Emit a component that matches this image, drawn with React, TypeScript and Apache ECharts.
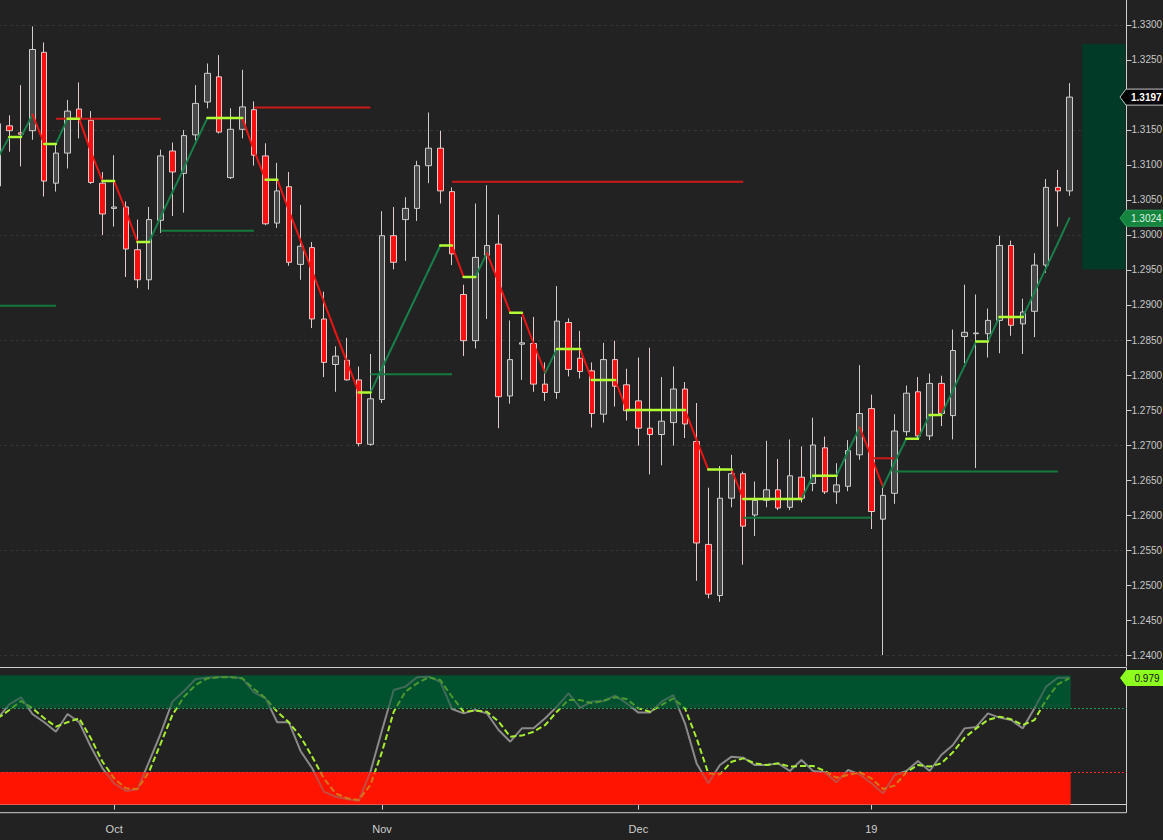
import React, { useEffect, useRef } from "react";
import * as echarts from "echarts";

// ---- Candles (daily GBP/USD, index 0 .. 92) ----
const opens = [
  1.3070, 1.3156, 1.3146, 1.3149, 1.3261, 1.3074, 1.3117, 1.3180, 1.3164, 1.3074,
  1.3038, 1.3040, 1.2979, 1.2936, 1.3021, 1.3120, 1.3088, 1.3143, 1.3190, 1.3226,
  1.3082, 1.3151, 1.3179, 1.3113, 1.3017, 1.3069, 1.2958, 1.2982, 1.2880, 1.2815,
  1.2821, 1.2793, 1.2701, 1.2765, 1.2999, 1.3022, 1.3038, 1.3099, 1.3124, 1.3062,
  1.2915, 1.2849, 1.2971, 1.2987, 1.2770, 1.2844, 1.2845, 1.2787, 1.2775, 1.2875,
  1.2824, 1.2806, 1.2744, 1.2822, 1.2786, 1.2763, 1.2724, 1.2715, 1.2732, 1.2780,
  1.2705, 1.2558, 1.2485, 1.2624, 1.2659, 1.2600, 1.2621, 1.2636, 1.2611, 1.2654,
  1.2645, 1.2696, 1.2633, 1.2641, 1.2686, 1.2752, 1.2594, 1.2631, 1.2719, 1.2776,
  1.2713, 1.2788, 1.2742, 1.2855, 1.2859, 1.2859, 1.2878, 1.2985, 1.2873, 1.2891,
  1.2957, 1.3068, 1.3063,
];
const closes = [
  1.3159, 1.3149, 1.3144, 1.3265, 1.3077, 1.3117, 1.3177, 1.3166, 1.3075, 1.3030,
  1.3040, 1.2980, 1.2936, 1.3022, 1.3113, 1.3090, 1.3142, 1.3188, 1.3231, 1.3147,
  1.3151, 1.3183, 1.3114, 1.3016, 1.3063, 1.2961, 1.2984, 1.2880, 1.2818, 1.2827,
  1.2793, 1.2702, 1.2766, 1.2999, 1.2961, 1.3038, 1.3099, 1.3124, 1.3063, 1.2973,
  1.2849, 1.2968, 1.2985, 1.2769, 1.2822, 1.2846, 1.2787, 1.2775, 1.2877, 1.2808,
  1.2805, 1.2745, 1.2822, 1.2784, 1.2749, 1.2724, 1.2715, 1.2734, 1.2780, 1.2730,
  1.2560, 1.2487, 1.2624, 1.2659, 1.2584, 1.2621, 1.2636, 1.2610, 1.2656, 1.2624,
  1.2700, 1.2633, 1.2643, 1.2692, 1.2745, 1.2605, 1.2628, 1.2720, 1.2774, 1.2713,
  1.2788, 1.2745, 1.2835, 1.2861, 1.2860, 1.2878, 1.2985, 1.2871, 1.2890, 1.2957,
  1.3068, 1.3063, 1.3197,
];
const lows = [
  1.3065, 1.3119, 1.3098, 1.3136, 1.3055, 1.3062, 1.3095, 1.3138, 1.3073, 1.3000,
  1.3012, 1.2940, 1.2924, 1.2922, 1.3003, 1.3027, 1.3032, 1.3135, 1.3181, 1.3145,
  1.3080, 1.3138, 1.3099, 1.3014, 1.3010, 1.2956, 1.2936, 1.2867, 1.2797, 1.2776,
  1.2792, 1.2698, 1.2699, 1.2760, 1.2951, 1.2963, 1.3020, 1.3074, 1.3045, 1.2957,
  1.2827, 1.2838, 1.2880, 1.2724, 1.2759, 1.2793, 1.2776, 1.2763, 1.2766, 1.2798,
  1.2795, 1.2725, 1.2732, 1.2755, 1.2735, 1.2699, 1.2658, 1.2671, 1.2699, 1.2710,
  1.2506, 1.2481, 1.2476, 1.2611, 1.2529, 1.2570, 1.2611, 1.2607, 1.2607, 1.2618,
  1.2634, 1.2630, 1.2616, 1.2634, 1.2679, 1.2580, 1.2400, 1.2616, 1.2713, 1.2709,
  1.2707, 1.2727, 1.2708, 1.2817, 1.2667, 1.2825, 1.2831, 1.2856, 1.2830, 1.2854,
  1.2946, 1.3012, 1.3056,
];
const highs = [
  1.3172, 1.3171, 1.3214, 1.3298, 1.3275, 1.3130, 1.3193, 1.3218, 1.3177, 1.3090,
  1.3114, 1.3048, 1.3022, 1.3040, 1.3122, 1.3132, 1.3150, 1.3214, 1.3245, 1.3257,
  1.3181, 1.3236, 1.3191, 1.3131, 1.3103, 1.3090, 1.3043, 1.2990, 1.2919, 1.2841,
  1.2853, 1.2812, 1.2830, 1.3034, 1.3040, 1.3054, 1.3106, 1.3175, 1.3149, 1.3068,
  1.2929, 1.3045, 1.3071, 1.3029, 1.2878, 1.2883, 1.2883, 1.2818, 1.2927, 1.2881,
  1.2863, 1.2818, 1.2846, 1.2849, 1.2809, 1.2825, 1.2839, 1.2797, 1.2812, 1.2790,
  1.2760, 1.2639, 1.2670, 1.2686, 1.2662, 1.2648, 1.2706, 1.2680, 1.2708, 1.2698,
  1.2739, 1.2712, 1.2674, 1.2707, 1.2814, 1.2772, 1.2640, 1.2744, 1.2785, 1.2797,
  1.2802, 1.2799, 1.2865, 1.2929, 1.2915, 1.2895, 1.2999, 1.2992, 1.2909, 1.2974,
  1.3080, 1.3093, 1.3217,
];

// ---- Trailing trend line (one value per candle) ----
const trendLine = [
  1.3110, 1.3140, 1.3140, 1.3172, 1.3130, 1.3130, 1.3166, 1.3166, 1.3119, 1.3077,
  1.3077, 1.3035, 1.2990, 1.2990, 1.3026, 1.3061, 1.3096, 1.3132, 1.3167, 1.3167,
  1.3167, 1.3167, 1.3121, 1.3079, 1.3079, 1.3035, 1.2992, 1.2948, 1.2905, 1.2861,
  1.2818, 1.2775, 1.2775, 1.2810, 1.2845, 1.2880, 1.2915, 1.2950, 1.2985, 1.2985,
  1.2940, 1.2940, 1.2974, 1.2932, 1.2889, 1.2889, 1.2845, 1.2803, 1.2837, 1.2837,
  1.2837, 1.2793, 1.2793, 1.2793, 1.2750, 1.2750, 1.2750, 1.2750, 1.2750, 1.2750,
  1.2707, 1.2665, 1.2665, 1.2665, 1.2623, 1.2623, 1.2623, 1.2623, 1.2623, 1.2623,
  1.2656, 1.2656, 1.2656, 1.2691, 1.2725, 1.2683, 1.2640, 1.2675, 1.2709, 1.2709,
  1.2743, 1.2743, 1.2778, 1.2813, 1.2848, 1.2848, 1.2883, 1.2883, 1.2883, 1.2918,
  1.2953, 1.2988, 1.3024,
];

// ---- Support / resistance levels ----
const levelStart = [0, 5, 14, 22, 32, 39, 64, 75, 77];
const levelEnd = [5, 14, 22, 32, 39, 64, 75, 77, 91];
const levelPrice = [1.2899, 1.3166, 1.3006, 1.3182, 1.2801, 1.3076, 1.2596, 1.2681, 1.2662];
const levelKind = ["support", "resistance", "support", "resistance", "support", "resistance", "support", "resistance", "support"];

// ---- Projected range box at the right ----
const rangeBoxFrom = 93.1;
const rangeBoxTo = 96.8;
const rangeBoxLow = 1.2951;
const rangeBoxHigh = 1.3273;

// ---- Stochastic oscillator ----
const stochK = [
  0.668, 0.776, 0.830, 0.699, 0.637, 0.564, 0.701, 0.637, 0.448, 0.281,
  0.165, 0.105, 0.118, 0.332, 0.552, 0.797, 0.879, 0.972, 0.982, 0.988,
  0.988, 0.977, 0.869, 0.822, 0.637, 0.637, 0.415, 0.281, 0.100, 0.061,
  0.043, 0.028, 0.255, 0.577, 0.887, 0.913, 0.985, 0.990, 0.951, 0.740,
  0.706, 0.732, 0.706, 0.577, 0.487, 0.590, 0.590, 0.668, 0.758, 0.861,
  0.750, 0.797, 0.802, 0.843, 0.784, 0.712, 0.712, 0.797, 0.848, 0.629,
  0.319, 0.165, 0.306, 0.371, 0.363, 0.306, 0.306, 0.319, 0.260, 0.345,
  0.260, 0.250, 0.172, 0.268, 0.234, 0.165, 0.087, 0.229, 0.260, 0.337,
  0.260, 0.384, 0.461, 0.590, 0.601, 0.706, 0.673, 0.655, 0.590, 0.745,
  0.913, 0.982, 0.982,
];
const stochD = [
  0.668, 0.732, 0.802, 0.745, 0.668, 0.603, 0.637, 0.668, 0.513, 0.332,
  0.203, 0.126, 0.121, 0.255, 0.474, 0.694, 0.835, 0.926, 0.977, 0.985,
  0.985, 0.977, 0.895, 0.822, 0.719, 0.637, 0.526, 0.371, 0.203, 0.087,
  0.049, 0.036, 0.152, 0.410, 0.719, 0.874, 0.939, 0.985, 0.964, 0.835,
  0.719, 0.727, 0.719, 0.642, 0.526, 0.534, 0.564, 0.616, 0.719, 0.810,
  0.810, 0.784, 0.804, 0.830, 0.817, 0.745, 0.719, 0.771, 0.822, 0.745,
  0.513, 0.242, 0.234, 0.332, 0.358, 0.319, 0.306, 0.319, 0.294, 0.299,
  0.299, 0.260, 0.208, 0.229, 0.250, 0.203, 0.121, 0.147, 0.250, 0.307,
  0.294, 0.319, 0.405, 0.518, 0.590, 0.655, 0.681, 0.660, 0.616, 0.655,
  0.810, 0.931, 0.979,
];
const stochUpperBand = [0.75, 1.0];
const stochLowerBand = [0.0, 0.25];

// ---- Axis ticks ----
const priceTicks = [
  1.24, 1.245, 1.25, 1.255, 1.26, 1.265, 1.27, 1.275, 1.28, 1.285,
  1.29, 1.295, 1.3, 1.305, 1.31, 1.315, 1.32, 1.325, 1.33,
];
const gridLevels = [1.24, 1.255, 1.27, 1.285, 1.3, 1.315, 1.33];
const monthTickIndex = [10, 33, 55, 75];
const monthTickLabel = ["Oct", "Nov", "Dec", "19"];

// ---- Layout constants ----
const X_MIN = 0.03;
const X_MAX = 96.9;
const PRICE_MIN = 1.238429;
const PRICE_MAX = 1.333571;
const STOCH_MIN = -0.0627;
const STOCH_MAX = 1.0611;

const FONT = "'Liberation Sans', Arial, sans-serif";
const AXIS_COLOR = "#cfcfcf";
const BG = "#222222";
const TREND_UP = "#17804a";
const TREND_DOWN = "#ee1414";
const TREND_FLAT = "#b2ff36";
const GREEN_BAND = "#00522f";
const RED_BAND = "#ff1400";

export default function App() {
  const ref = useRef<HTMLDivElement>(null);

  useEffect(() => {
    if (!ref.current) return;
    const chart = echarts.init(ref.current, undefined, { renderer: "svg" });
    const last = closes.length - 1;

    const candleData = opens.map((o, i) => [i, o, closes[i], lows[i], highs[i]]);
    const segData = trendLine.slice(0, -1).map((v, i) => [i, v, trendLine[i + 1]]);
    const levelData = levelStart.map((s, i) => [s, levelEnd[i], levelPrice[i], levelKind[i] === "support" ? 0 : 1]);

    const bandData = [
      [X_MIN, last + 0.1, stochUpperBand[0], stochUpperBand[1], 0],
      [X_MIN, last + 0.1, stochLowerBand[0], stochLowerBand[1], 1],
    ];

    const bandSeries = (z: number, opacity: number) => ({
      type: "custom",
      xAxisIndex: 1,
      yAxisIndex: 1,
      z,
      silent: true,
      clip: true,
      data: bandData,
      encode: { x: [0, 1], y: [2, 3] },
      renderItem: (_p: any, api: any) => {
        const a = api.coord([api.value(0), api.value(3)]);
        const b = api.coord([api.value(1), api.value(2)]);
        return {
          type: "rect",
          shape: { x: a[0], y: a[1], width: b[0] - a[0], height: b[1] - a[1] },
          style: { fill: api.value(4) === 0 ? GREEN_BAND : RED_BAND, opacity },
        };
      },
    });

    const tagShape = (x: number, y: number) => [
      [x - 6.5, y],
      [x - 0.5, y - 8],
      [x + 45, y - 8],
      [x + 45, y + 8],
      [x - 0.5, y + 8],
    ];

    const option: any = {
      animation: false,
      backgroundColor: BG,
      grid: [
        { left: -2, right: 36.5, top: 0, height: 666, outerBoundsMode: "none", containLabel: false },
        {
          left: -2,
          right: 36.5,
          top: 667.5,
          height: 145.2,
          outerBoundsMode: "none",
          containLabel: false,
          show: true,
          borderColor: AXIS_COLOR,
          borderWidth: 1,
          backgroundColor: "transparent",
        },
      ],
      xAxis: [
        { type: "value", gridIndex: 0, min: X_MIN, max: X_MAX, show: false },
        {
          type: "value",
          gridIndex: 1,
          min: X_MIN,
          max: X_MAX,
          axisLine: { show: true, lineStyle: { color: AXIS_COLOR } },
          axisTick: { show: true, customValues: monthTickIndex, length: 5, lineStyle: { color: AXIS_COLOR } },
          axisLabel: {
            show: true,
            customValues: monthTickIndex,
            formatter: (v: number) => monthTickLabel[monthTickIndex.indexOf(Math.round(v))] ?? "",
            color: AXIS_COLOR,
            fontSize: 11,
            fontFamily: FONT,
            margin: 11,
          },
          splitLine: { show: false },
        },
      ],
      yAxis: [
        {
          type: "value",
          gridIndex: 0,
          position: "right",
          min: PRICE_MIN,
          max: PRICE_MAX,
          axisLine: { show: true, lineStyle: { color: AXIS_COLOR } },
          axisTick: { show: true, customValues: priceTicks, length: 5, lineStyle: { color: AXIS_COLOR } },
          axisLabel: {
            show: true,
            customValues: priceTicks,
            formatter: (v: number) => v.toFixed(4),
            color: "#c8c8c8",
            fontSize: 10,
            fontFamily: FONT,
            margin: 5,
          },
          splitLine: { show: false },
        },
        {
          type: "value",
          gridIndex: 1,
          position: "right",
          min: STOCH_MIN,
          max: STOCH_MAX,
          axisLine: { show: false },
          axisTick: { show: false },
          axisLabel: { show: false },
          splitLine: { show: false },
        },
      ],
      series: [
        // faint dashed grid lines
        {
          type: "custom",
          xAxisIndex: 0,
          yAxisIndex: 0,
          z: 0,
          silent: true,
          data: gridLevels.map((v) => [X_MIN, v]),
          encode: { x: 0, y: 1 },
          renderItem: (_p: any, api: any) => {
            const a = api.coord([X_MIN, api.value(1)]);
            const b = api.coord([X_MAX, api.value(1)]);
            const y = Math.round(a[1]) + 0.5;
            return {
              type: "line",
              shape: { x1: a[0], y1: y, x2: b[0], y2: y },
              style: { stroke: "#363636", lineWidth: 1, lineDash: [3, 3] },
            };
          },
        },
        // projected range box
        {
          type: "custom",
          xAxisIndex: 0,
          yAxisIndex: 0,
          z: 1,
          silent: true,
          data: [[rangeBoxFrom, rangeBoxTo, rangeBoxLow, rangeBoxHigh]],
          encode: { x: [0, 1], y: [2, 3] },
          renderItem: (_p: any, api: any) => {
            const a = api.coord([api.value(0), api.value(3)]);
            const b = api.coord([api.value(1), api.value(2)]);
            return {
              type: "rect",
              shape: { x: a[0], y: a[1], width: b[0] - a[0], height: b[1] - a[1] },
              style: { fill: "#013a26" },
            };
          },
        },
        // candles
        {
          type: "candlestick",
          xAxisIndex: 0,
          yAxisIndex: 0,
          z: 3,
          silent: true,
          barWidth: 6,
          encode: { x: 0, y: [1, 2, 3, 4] },
          data: candleData,
          itemStyle: {
            color: "#474747",
            color0: "#f81010",
            borderColor: "#cdcdcd",
            borderColor0: "#e2caca",
            borderWidth: 1,
          },
        },
        // support / resistance levels
        {
          type: "custom",
          xAxisIndex: 0,
          yAxisIndex: 0,
          z: 4,
          silent: true,
          data: levelData,
          encode: { x: [0, 1], y: 2 },
          renderItem: (_p: any, api: any) => {
            const a = api.coord([api.value(0), api.value(2)]);
            const b = api.coord([api.value(1), api.value(2)]);
            return {
              type: "line",
              shape: { x1: a[0], y1: a[1], x2: b[0], y2: b[1] },
              style: { stroke: api.value(3) === 0 ? "#157a3e" : "#cc1a1a", lineWidth: 2 },
            };
          },
        },
        // trailing trend line, coloured by direction
        {
          type: "custom",
          xAxisIndex: 0,
          yAxisIndex: 0,
          z: 5,
          silent: true,
          data: segData,
          encode: { x: 0, y: [1, 2] },
          renderItem: (_p: any, api: any) => {
            const i = api.value(0);
            const v0 = api.value(1);
            const v1 = api.value(2);
            const a = api.coord([i, v0]);
            const b = api.coord([i + 1, v1]);
            const flat = Math.abs(v1 - v0) < 1e-9;
            const color = flat ? TREND_FLAT : v1 > v0 ? TREND_UP : TREND_DOWN;
            return {
              type: "line",
              z2: flat ? 2 : 1,
              shape: { x1: a[0], y1: a[1], x2: b[0], y2: b[1] },
              style: { stroke: color, lineWidth: flat ? 2.5 : 2, lineCap: "round" },
            };
          },
        },
        // price tags on the right axis
        {
          type: "custom",
          xAxisIndex: 0,
          yAxisIndex: 0,
          z: 20,
          clip: false,
          silent: true,
          data: [
            [X_MAX, closes[last], 0],
            [X_MAX, trendLine[last], 1],
          ],
          encode: { x: 0, y: 1 },
          renderItem: (_p: any, api: any) => {
            const p = api.coord([X_MAX, api.value(1)]);
            const kind = api.value(2);
            const x = p[0];
            const y = p[1];
            return {
              type: "group",
              children: [
                {
                  type: "polygon",
                  shape: { points: tagShape(x, y) },
                  style:
                    kind === 0
                      ? { fill: "#000000", stroke: "#c8c8c8", lineWidth: 1 }
                      : { fill: "#15843f", stroke: "#2aa05a", lineWidth: 1 },
                },
                {
                  type: "text",
                  x: x + 4.5,
                  y: y,
                  style: {
                    text: api.value(1).toFixed(4),
                    fill: kind === 0 ? "#ffffff" : "#dff5e4",
                    fontSize: 10,
                    fontFamily: FONT,
                    fontWeight: kind === 0 ? "bold" : "normal",
                    align: "left",
                    verticalAlign: "middle",
                  },
                },
              ],
            };
          },
        },
        // stochastic bands (under the lines)
        bandSeries(1, 1),
        // %K
        {
          type: "line",
          xAxisIndex: 1,
          yAxisIndex: 1,
          z: 4,
          silent: true,
          symbol: "none",
          data: stochK.map((v, i) => [i, v]),
          lineStyle: { color: "#8a8a8a", width: 2 },
        },
        // %D
        {
          type: "line",
          xAxisIndex: 1,
          yAxisIndex: 1,
          z: 5,
          silent: true,
          symbol: "none",
          data: stochD.map((v, i) => [i, v]),
          lineStyle: { color: "#a6ee30", width: 2, type: [6, 3] },
        },
        // stochastic bands (tint over the lines)
        bandSeries(6, 0.55),
        // dotted level lines
        {
          type: "custom",
          xAxisIndex: 1,
          yAxisIndex: 1,
          z: 7,
          silent: true,
          data: [
            [X_MIN, stochUpperBand[0], 0],
            [X_MIN, stochLowerBand[1], 1],
          ],
          encode: { x: 0, y: 1 },
          renderItem: (_p: any, api: any) => {
            const a = api.coord([X_MIN, api.value(1)]);
            const b = api.coord([X_MAX, api.value(1)]);
            const y = Math.round(a[1]) + 0.5;
            return {
              type: "line",
              shape: { x1: a[0], y1: y, x2: b[0], y2: y },
              style: { stroke: api.value(2) === 0 ? "#1d9a55" : "#ff2a2a", lineWidth: 1, lineDash: [2, 2] },
            };
          },
        },
        // stochastic %D tag
        {
          type: "custom",
          xAxisIndex: 1,
          yAxisIndex: 1,
          z: 20,
          clip: false,
          silent: true,
          data: [[X_MAX, stochD[last]]],
          encode: { x: 0, y: 1 },
          renderItem: (_p: any, api: any) => {
            const p = api.coord([X_MAX, api.value(1)]);
            const x = p[0];
            const y = p[1];
            return {
              type: "group",
              children: [
                {
                  type: "polygon",
                  shape: { points: tagShape(x, y) },
                  style: { fill: "#8cff1e" },
                },
                {
                  type: "text",
                  x: x + 8,
                  y: y,
                  style: {
                    text: api.value(1).toFixed(3),
                    fill: "#111111",
                    fontSize: 10,
                    fontFamily: FONT,
                    align: "left",
                    verticalAlign: "middle",
                  },
                },
              ],
            };
          },
        },
      ],
    };

    chart.setOption(option);
    return () => chart.dispose();
  }, []);

  return (
    <div
      ref={ref}
      style={{ position: "fixed", left: 0, top: 0, width: 1163, height: 840, background: BG }}
    />
  );
}
